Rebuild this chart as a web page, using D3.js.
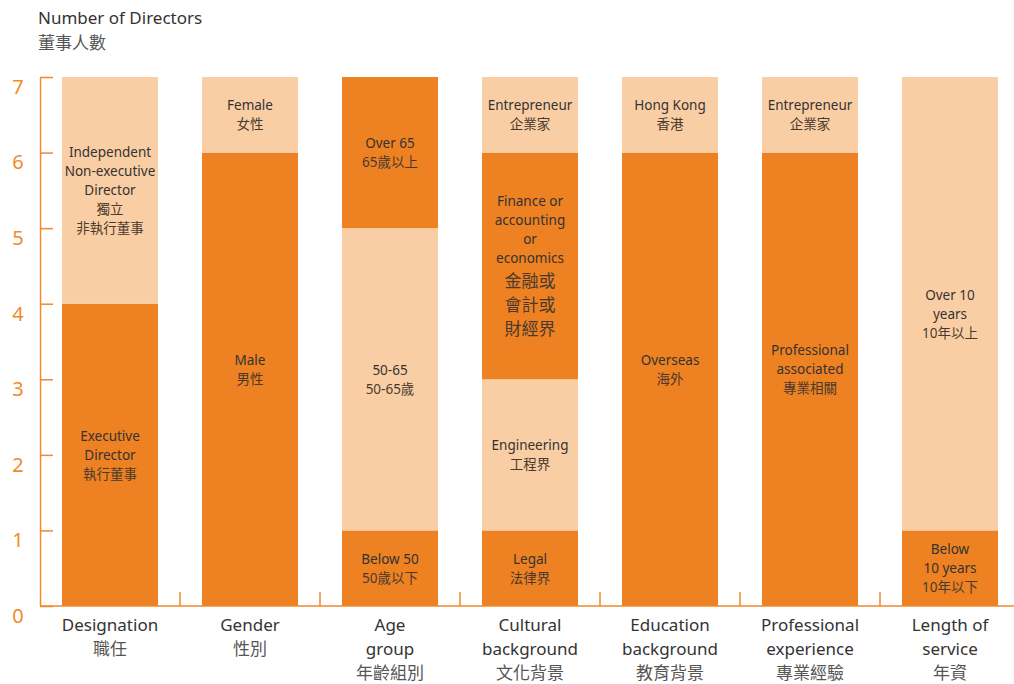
<!DOCTYPE html>
<html>
<head>
<meta charset="utf-8">
<script src="https://cdn.jsdelivr.net/npm/d3@7"></script>
<style>
  body { margin: 0; background: #fff; }
  text { font-family: "Noto Sans", "Noto Sans CJK TC", sans-serif; }
</style>
</head>
<body>
<svg id="chart"></svg>
<script>
// Board composition chart: stacked bars of directors per category

const categories = ["Designation", "Gender", "Age", "Cultural", "Education", "Professional", "Length"];

const categoryLabels = [
    ["Designation", "職任"],
    ["Gender", "性別"],
    ["Age", "group", "年齡組別"],
    ["Cultural", "background", "文化背景"],
    ["Education", "background", "教育背景"],
    ["Professional", "experience", "專業經驗"],
    ["Length of", "service", "年資"]
];

// values stacked from the bottom up
const segmentValues = [
    [4, 3],
    [6, 1],
    [1, 4, 2],
    [1, 2, 3, 1],
    [6, 1],
    [6, 1],
    [1, 6]
];

const segmentLabels = [
    [["Executive", "Director", "執行董事"], ["Independent", "Non-executive", "Director", "獨立", "非執行董事"]],
    [["Male", "男性"], ["Female", "女性"]],
    [["Below 50", "50歲以下"], ["50-65", "50-65歲"], ["Over 65", "65歲以上"]],
    [["Legal", "法律界"], ["Engineering", "工程界"], ["Finance or", "accounting", "or", "economics", "金融或", "會計或", "財經界"], ["Entrepreneur", "企業家"]],
    [["Overseas", "海外"], ["Hong Kong", "香港"]],
    [["Professional", "associated", "專業相關"], ["Entrepreneur", "企業家"]],
    [["Below", "10 years", "10年以下"], ["Over 10", "years", "10年以上"]]
];

const yTicks = [0, 1, 2, 3, 4, 5, 6, 7];

const width = 1014;
const height = 684;
const dark = "#ee8121";
const light = "#f9cea4";
const axisColor = "#f08a2c";
const textColor = "#333";

const svg = d3.select("#chart")
    .attr("width", width)
    .attr("height", height);

const x = d3.scaleBand()
    .domain(categories)
    .range([40, 1020])
    .paddingInner(44 / 140)
    .paddingOuter(22 / 140);

const y = d3.scaleLinear()
    .domain([0, 7])
    .range([606, 77]);

const isCjk = s => /[\u4e00-\u9fff]/.test(s);

// title
svg.append("text")
    .attr("x", 38).attr("y", 24)
    .attr("font-size", 17)
    .attr("fill", textColor)
    .text("Number of Directors");
svg.append("text")
    .attr("x", 38).attr("y", 49)
    .attr("font-size", 17)
    .attr("fill", "#555")
    .text("董事人數");

// bars
categories.forEach((cat, i) => {
    const vals = segmentValues[i];
    const starts = [0, ...d3.cumsum(vals)];
    const g = svg.append("g");

    vals.forEach((v, j) => {
        const y0 = starts[j], y1 = starts[j] + v;
        g.append("rect")
            .attr("x", x(cat))
            .attr("y", y(y1))
            .attr("width", x.bandwidth())
            .attr("height", y(y0) - y(y1))
            .attr("fill", j % 2 === 0 ? dark : light);
    });

    vals.forEach((v, j) => {
        const lines = segmentLabels[i][j];
        const big = lines.length > 5;
        const sizes = lines.map(l => (big && isCjk(l)) ? 17 : 13.5);
        const steps = lines.map(l => (big && isCjk(l)) ? 24 : 19);
        const total = d3.sum(steps.slice(1));
        // tall segments: labels sit a little off centre in the original
        const shift = v >= 5 ? (j % 2 === 0 ? -10 : 10) : 0;
        const cy = (y(starts[j]) + y(starts[j] + v)) / 2 + shift;
        let ty = cy - total / 2 + 5;
        lines.forEach((l, k) => {
            if (k > 0) ty += steps[k];
            g.append("text")
                .attr("x", x(cat) + x.bandwidth() / 2)
                .attr("y", ty)
                .attr("text-anchor", "middle")
                .attr("font-size", sizes[k])
                .attr("fill", isCjk(l) ? "#4a3a2e" : textColor)
                .text(l);
        });
    });

    // category label under the bar
    categoryLabels[i].forEach((l, k) => {
        svg.append("text")
            .attr("x", x(cat) + x.bandwidth() / 2)
            .attr("y", 631 + k * 24)
            .attr("text-anchor", "middle")
            .attr("font-size", 17)
            .attr("fill", isCjk(l) ? "#555" : textColor)
            .text(l);
    });
});

// separators on the baseline
categories.slice(1).forEach(cat => {
    const sx = x(cat) - 22;
    svg.append("line")
        .attr("x1", sx).attr("x2", sx)
        .attr("y1", y(0) - 14).attr("y2", y(0))
        .attr("stroke", axisColor)
        .attr("stroke-width", 1.5);
});

// y axis
const yAxis = svg.append("g")
    .attr("transform", "translate(40,0)")
    .call(d3.axisLeft(y)
        .tickValues(yTicks)
        .tickFormat(d3.format("d"))
        .tickSizeInner(-13)
        .tickSizeOuter(0));

yAxis.select(".domain").attr("stroke", axisColor).attr("stroke-width", 1.5);
yAxis.selectAll(".tick line").attr("stroke", axisColor).attr("stroke-width", 1.5);
yAxis.selectAll(".tick text")
    .attr("fill", axisColor)
    .attr("font-size", 20)
    .attr("font-family", "\"Noto Sans\", sans-serif")
    .attr("text-anchor", "middle")
    .attr("x", -22)
    .attr("dy", "0.32em")
    .attr("y", 10);

// baseline
svg.append("line")
    .attr("x1", 40).attr("x2", width)
    .attr("y1", y(0)).attr("y2", y(0))
    .attr("stroke", axisColor)
    .attr("stroke-width", 1.5);
</script>
</body>
</html>
